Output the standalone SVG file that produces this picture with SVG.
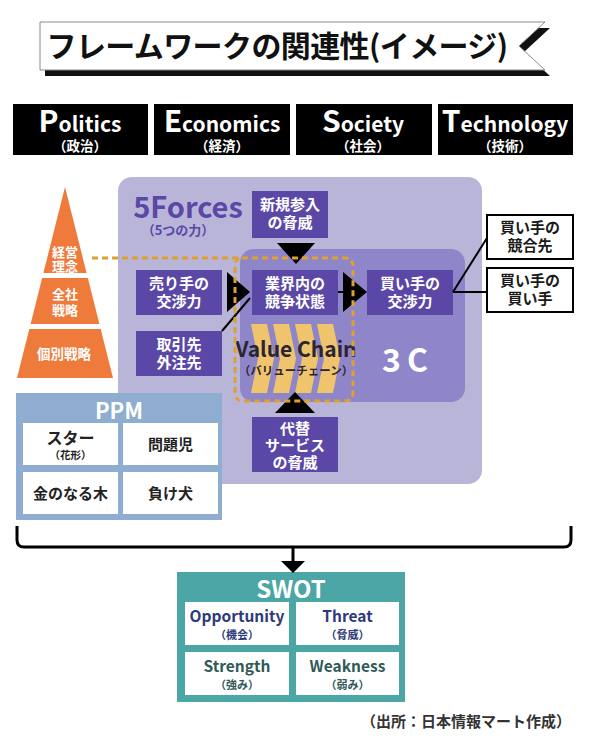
<svg xmlns="http://www.w3.org/2000/svg" width="590" height="750" viewBox="0 0 590 750">
<style>
  text { font-family: "Noto Sans CJK JP", "Noto Sans", sans-serif; font-weight: bold; text-anchor: middle; }
  .pest { fill: #000; }
  .pw { fill: #fff; }
  .dk { fill: #5b48a6; }
  .wt { fill: #fff; font-size: 15px; }
  .bk { fill: #1a1a1a; font-size: 15px; }
  .cell { fill: #fff; }
  .tri { fill: #000; }
  .ln { stroke: #000; stroke-width: 2; fill: none; }
</style>
<rect width="590" height="750" fill="#fff"/>

<g id="title">
  <polygon points="45,28 550,28 524,52 550,76 45,76" fill="#111"/>
  <polygon points="40,22 545,22 519,46 545,70 40,70" fill="#fff" stroke="#8a8a8a" stroke-width="1"/>
  <text x="277" y="57" font-size="30" fill="#111" letter-spacing="-0.6">フレームワークの関連性(イメージ)</text>
</g>

<g id="pest">
  <g id="politics">
    <rect x="13" y="104" width="135" height="51" class="pest"/>
    <text x="80" y="132" class="pw" font-size="21"><tspan font-size="30">P</tspan>olitics</text>
    <text x="80" y="151" class="pw" font-size="13.5">（政治）</text>
  </g>
  <g id="economics">
    <rect x="154" y="104" width="136" height="51" class="pest"/>
    <text x="222" y="132" class="pw" font-size="21"><tspan font-size="30">E</tspan>conomics</text>
    <text x="222" y="151" class="pw" font-size="13.5">（経済）</text>
  </g>
  <g id="society">
    <rect x="296" y="104" width="136" height="51" class="pest"/>
    <text x="363" y="132" class="pw" font-size="21"><tspan font-size="30">S</tspan>ociety</text>
    <text x="363" y="151" class="pw" font-size="13.5">（社会）</text>
  </g>
  <g id="technology">
    <rect x="438" y="104" width="135" height="51" class="pest"/>
    <text x="505" y="132" class="pw" font-size="21"><tspan font-size="30">T</tspan>echnology</text>
    <text x="505" y="151" class="pw" font-size="13.5">（技術）</text>
  </g>
</g>

<g id="pyramid">
  <polygon points="65,187 86.6,273 43.4,273" fill="#ee7a3c"/>
  <polygon points="42.1,278 87.9,278 99.4,324 30.6,324" fill="#ee7a3c"/>
  <polygon points="29.3,329 100.7,329 113,378 17,378" fill="#ee7a3c"/>
  <text x="65" y="257" fill="#fff" font-size="13">経営</text>
  <text x="65" y="271" fill="#fff" font-size="13">理念</text>
  <text x="65" y="299" fill="#fff" font-size="13">全社</text>
  <text x="65" y="315" fill="#fff" font-size="13">戦略</text>
  <text x="64" y="359" fill="#fff" font-size="13.5">個別戦略</text>
</g>

<g id="fiveforces">
  <rect x="118" y="177" width="364" height="307" rx="14" fill="#b9b5d9"/>
  <text x="188" y="218" font-size="29" fill="#5b48a6">5Forces</text>
  <text x="178" y="235" font-size="13" fill="#5b48a6">（5つの力）</text>
</g>

<g id="threeC">
  <rect x="240" y="249" width="225" height="153" rx="14" fill="#8f86ca"/>
  <text x="408" y="372" font-size="32" fill="#fff" letter-spacing="6">3C</text>
</g>

<g id="valuechain">
  <polygon points="251,324 267,324 274,358.5 267,393 251,393 258,358.5" fill="#f0c46c"/>
  <polygon points="273,324 289,324 296,358.5 289,393 273,393 280,358.5" fill="#f0c46c"/>
  <polygon points="295,324 311,324 318,358.5 311,393 295,393 302,358.5" fill="#f0c46c"/>
  <polygon points="317,324 333,324 340,358.5 333,393 317,393 324,358.5" fill="#f0c46c"/>
  <text x="296" y="357" font-size="21" fill="#2a2530">Value Chain</text>
  <text x="296" y="375" font-size="11.5" fill="#2a2530">（バリューチェーン）</text>
</g>

<g id="new-entrants">
  <rect x="252" y="191" width="76" height="47" class="dk"/>
  <text x="290" y="210" class="wt">新規参入</text>
  <text x="290" y="228" class="wt">の脅威</text>
</g>
<g id="suppliers">
  <rect x="136" y="270" width="86" height="45" class="dk"/>
  <text x="179" y="289" class="wt">売り手の</text>
  <text x="179" y="307" class="wt">交渉力</text>
</g>
<g id="rivalry">
  <rect x="252" y="270" width="86" height="45" class="dk"/>
  <text x="295" y="289" class="wt">業界内の</text>
  <text x="295" y="307" class="wt">競争状態</text>
</g>
<g id="buyers">
  <rect x="367" y="270" width="86" height="45" class="dk"/>
  <text x="410" y="289" class="wt">買い手の</text>
  <text x="410" y="307" class="wt">交渉力</text>
</g>
<g id="partners">
  <rect x="136" y="331" width="86" height="45" class="dk"/>
  <text x="179" y="350" class="wt">取引先</text>
  <text x="179" y="368" class="wt">外注先</text>
</g>
<g id="substitutes">
  <rect x="252" y="417" width="86" height="55" class="dk"/>
  <text x="295" y="434" class="wt" font-size="14.5">代替</text>
  <text x="295" y="451" class="wt" font-size="14.5">サービス</text>
  <text x="295" y="468" class="wt" font-size="14.5">の脅威</text>
</g>

<g id="buyer-competitors">
  <rect x="487" y="215" width="86" height="44" fill="#fff" stroke="#000" stroke-width="2"/>
  <text x="530" y="233" class="bk">買い手の</text>
  <text x="530" y="251" class="bk">競合先</text>
</g>
<g id="buyers-buyers">
  <rect x="487" y="268" width="86" height="44" fill="#fff" stroke="#000" stroke-width="2"/>
  <text x="530" y="286" class="bk">買い手の</text>
  <text x="530" y="304" class="bk">買い手</text>
</g>

<g id="ppm">
  <rect x="16" y="393" width="206" height="127" fill="#8fadd0"/>
  <text x="119" y="419" font-size="22" fill="#fff">PPM</text>
  <rect x="23" y="423" width="95" height="42" class="cell"/>
  <rect x="123" y="423" width="95" height="42" class="cell"/>
  <rect x="23" y="472" width="95" height="42" class="cell"/>
  <rect x="123" y="472" width="95" height="42" class="cell"/>
  <text x="70.5" y="444" font-size="16" fill="#222">スター</text>
  <text x="70.5" y="459" font-size="10.5" fill="#222">（花形）</text>
  <text x="170.5" y="450" font-size="15" fill="#222">問題児</text>
  <text x="70.5" y="499" font-size="15" fill="#222">金のなる木</text>
  <text x="170.5" y="499" font-size="15" fill="#222">負け犬</text>
</g>

<g id="swot">
  <rect x="177" y="572" width="228" height="130" fill="#4da6a6"/>
  <text x="291" y="598" font-size="24" fill="#fff">SWOT</text>
  <rect x="185" y="602" width="104" height="43" class="cell"/>
  <rect x="296" y="602" width="103" height="43" class="cell"/>
  <rect x="185" y="652" width="104" height="43" class="cell"/>
  <rect x="296" y="652" width="103" height="43" class="cell"/>
  <text x="237" y="622" font-size="15.5" fill="#2e3a7c">Opportunity</text>
  <text x="237" y="639" font-size="11" fill="#2e3a7c">（機会）</text>
  <text x="347.5" y="622" font-size="15.5" fill="#2e3a7c">Threat</text>
  <text x="347.5" y="639" font-size="11" fill="#2e3a7c">（脅威）</text>
  <text x="237" y="672" font-size="15.5" fill="#2f5a58">Strength</text>
  <text x="237" y="689" font-size="11" fill="#2f5a58">（強み）</text>
  <text x="347.5" y="672" font-size="15.5" fill="#2f5a58">Weakness</text>
  <text x="347.5" y="689" font-size="11" fill="#2f5a58">（弱み）</text>
</g>

<g id="connectors">
  <polygon class="tri" points="277,243 315,243 296,264"/>
  <polygon class="tri" points="227,272 227,312 250,292"/>
  <line class="ln" x1="338" y1="292" x2="344" y2="292"/>
  <polygon class="tri" points="343,272 343,312 367,292"/>
  <polygon class="tri" points="275,413 315,413 295,392"/>
  <line class="ln" x1="222" y1="331" x2="250" y2="298"/>
  <line class="ln" x1="453" y1="292" x2="487" y2="238"/>
  <line class="ln" x1="453" y1="292" x2="487" y2="292"/>
  <path d="M92,258 H345 Q353,258 353,266 V393 Q353,401 345,401 H243 Q235,401 235,393 V266 Q235,258 243,258" fill="none" stroke="#e0a030" stroke-width="3" stroke-dasharray="6,4"/>
  <path d="M17,526 V540 Q17,547 24,547 H564 Q571,547 571,540 V526" fill="none" stroke="#000" stroke-width="3"/>
  <line x1="293" y1="547" x2="293" y2="563" stroke="#000" stroke-width="3"/>
  <polygon class="tri" points="281,561 305,561 293,573"/>
</g>

<g id="source">
  <text x="466" y="727" font-size="15" font-weight="normal" fill="#333">（出所：日本情報マート作成）</text>
</g>
</svg>
